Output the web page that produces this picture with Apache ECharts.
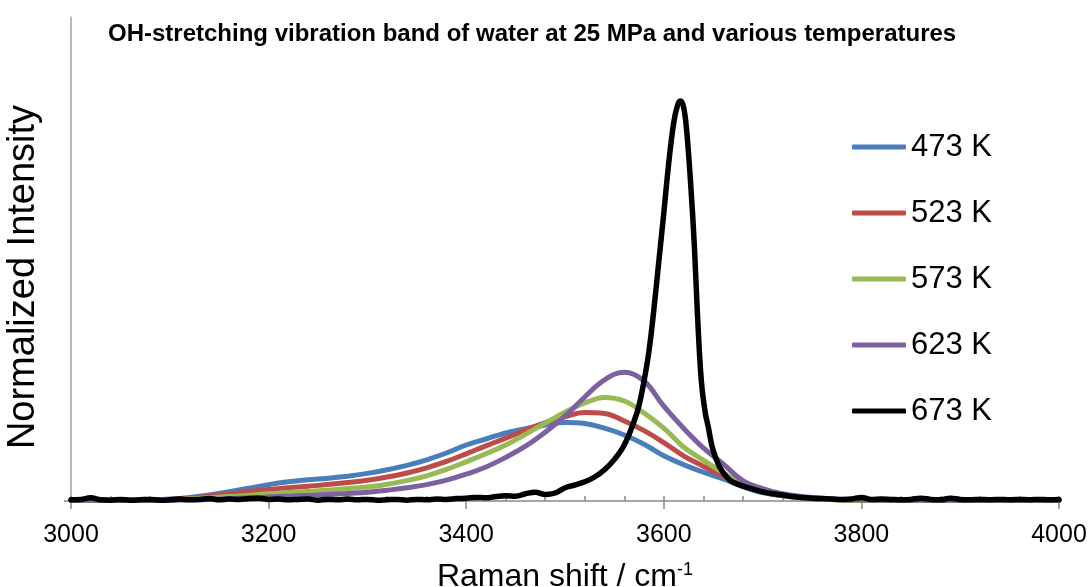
<!DOCTYPE html>
<html>
<head>
<meta charset="utf-8">
<script src="https://cdn.jsdelivr.net/npm/echarts@6/dist/echarts.min.js"></script>
<style>html,body{margin:0;padding:0;background:#fff}#chart{width:1088px;height:587px}</style>
</head>
<body>
<div id="chart"></div>
<script>
const titleText = 'OH-stretching vibration band of water at 25 MPa and various temperatures';
const seriesNames = ['473 K', '523 K', '573 K', '623 K', '673 K'];
const seriesColors = ['#4A7EBB', '#BE4B48', '#98B954', '#7D60A0', '#000000'];

// shared wavenumber grid (cm-1) for the four smooth bands
const wn = [3000,3020,3040,3060,3080,3100,3120,3140,3160,3180,3200,3220,3240,3260,3280,3300,3320,3340,3360,3380,3400,3420,3440,3460,3480,3500,3520,3540,3560,3580,3600,3620,3640,3660,3680,3700,3720,3740,3760,3780,3800,3820,3840,3860,3880,3900,3920,3940,3960,3980,4000];
const i473 = [0.002,0.002,0.002,0.002,0.003,0.005,0.009,0.015,0.023,0.032,0.041,
  0.048,0.053,0.057,0.062,0.069,0.078,0.089,0.103,0.120,0.140,
  0.155,0.170,0.181,0.190,0.196,0.194,0.182,0.165,0.142,0.113,
  0.091,0.072,0.055,0.036,0.021,0.013,0.008,0.005,0.003,0.002,
  0.002,0.002,0.002,0.002,0.002,0.002,0.002,0.002,0.002,0.002];
const i523 = [0.002,0.002,0.002,0.002,0.002,0.004,0.007,0.012,0.018,0.024,0.029,
  0.033,0.037,0.041,0.046,0.052,0.060,0.070,0.083,0.099,0.118,
  0.138,0.157,0.177,0.196,0.211,0.221,0.219,0.200,0.176,0.146,
  0.113,0.087,0.063,0.040,0.023,0.014,0.008,0.005,0.003,0.002,
  0.002,0.002,0.002,0.002,0.002,0.002,0.002,0.002,0.002,0.002];
const i573 = [0.002,0.002,0.002,0.002,0.002,0.003,0.005,0.008,0.011,0.014,0.018,
  0.021,0.024,0.027,0.031,0.035,0.042,0.051,0.063,0.079,0.098,
  0.118,0.140,0.167,0.195,0.222,0.245,0.259,0.250,0.220,0.182,
  0.135,0.102,0.071,0.043,0.025,0.015,0.009,0.005,0.003,0.002,
  0.002,0.002,0.002,0.002,0.002,0.002,0.002,0.002,0.002,0.002];
const i623 = [0.002,0.002,0.002,0.002,0.002,0.002,0.003,0.004,0.006,0.008,0.010,
  0.012,0.014,0.016,0.019,0.022,0.027,0.033,0.041,0.052,0.067,
  0.085,0.109,0.137,0.172,0.212,0.260,0.303,0.322,0.300,0.237,
  0.182,0.133,0.093,0.051,0.031,0.018,0.011,0.007,0.004,0.003,
  0.002,0.002,0.002,0.002,0.002,0.002,0.002,0.002,0.002,0.002];

// 673 K band (own, denser grid around the sharp peak)
const wn673 = [3000,3010,3020,3030,3040,3050,3060,3070,3080,3090,
  3100,3110,3120,3130,3140,3150,3160,3170,3180,3190,
  3200,3210,3220,3230,3240,3250,3260,3270,3280,3290,
  3300,3310,3320,3330,3340,3350,3360,3370,3380,3390,
  3400,3410,3420,3430,3440,3450,3460,3470,3480,3490,
  3500,3510,3520,3530,3540,3550,3560,3570,
  3575,3580,3585,3590,3595,3600,3605,3610,3614,3617,3620,3623,3627,3631,3634,3638,3642,3645,3649,3653,3657,3662,3667,3675,3687,3700,
  3710,3720,3730,3740,3750,3760,3770,3780,3790,3800,
  3810,3820,3830,3840,3850,3860,3870,3880,3890,3900,
  3910,3920,3930,3940,3950,3960,3970,3980,3990,4000];
const i673 = [0.003,0.004,0.008,0.003,0.002,0.004,0.002,0.003,0.004,0.002,
  0.003,0.005,0.003,0.004,0.006,0.003,0.005,0.004,0.006,0.007,
  0.004,0.005,0.003,0.004,0.005,0.002,0.004,0.003,0.005,0.003,
  0.004,0.002,0.003,0.004,0.002,0.004,0.003,0.005,0.004,0.006,
  0.007,0.009,0.008,0.011,0.013,0.012,0.018,0.022,0.016,0.020,
  0.033,0.040,0.048,0.060,0.078,0.104,0.140,0.200,
  0.240,0.300,0.375,0.480,0.600,0.720,0.845,0.945,0.990,1.000,0.985,0.930,0.800,0.635,0.470,0.300,0.220,0.185,0.135,0.105,0.083,0.065,0.052,0.042,0.032,0.023,
  0.018,0.015,0.011,0.009,0.007,0.006,0.005,0.004,0.005,0.009,
  0.004,0.005,0.004,0.003,0.004,0.007,0.004,0.003,0.007,0.004,
  0.003,0.004,0.003,0.004,0.003,0.004,0.003,0.004,0.003,0.004];

const xTicks = { min: 3000, max: 4000, interval: 200 };
const yRange = { min: 0, max: 1.21 };

const FONT = 'Liberation Sans, Arial, sans-serif';
const pair = (xs, ys) => xs.map((x, k) => [x, ys[k]]);
const bandData = [pair(wn, i473), pair(wn, i523), pair(wn, i573), pair(wn, i623), pair(wn673, i673)];

const chart = echarts.init(document.getElementById('chart'), null, { renderer: 'canvas' });
chart.setOption({
  animation: false,
  backgroundColor: '#ffffff',
  title: {
    text: titleText, left: 103, top: 17,
    textStyle: { fontFamily: FONT, fontWeight: 'bold', fontSize: 24, color: '#000' }
  },
  legend: {
    orient: 'vertical', left: 852, top: 129, padding: 0,
    icon: 'roundRect',
    itemWidth: 54, itemHeight: 5, itemGap: 30,
    textStyle: { fontFamily: FONT, fontSize: 31, color: '#000', lineHeight: 36 },
    data: seriesNames
  },
  grid: { left: 71, right: 29, top: 17, bottom: 86, outerBoundsMode: 'none', containLabel: false },
  xAxis: [{
    type: 'value', min: xTicks.min, max: xTicks.max, interval: xTicks.interval,
    axisLine: { show: true, lineStyle: { color: '#898989', width: 1.5 } },
    axisTick: { show: true, inside: true, length: 5, lineStyle: { color: '#898989', width: 1.5 } },
    minorTick: { show: true, splitNumber: 5, length: 5, lineStyle: { color: '#898989', width: 1.5 } },
    splitLine: { show: false },
    axisLabel: { fontFamily: FONT, fontSize: 25, color: '#000', margin: 22, formatter: v => String(v) },
    name: '{a|Raman shift / cm}{b|-1}', nameLocation: 'middle', nameGap: 60,
    nameTextStyle: {
      rich: {
        a: { fontFamily: FONT, fontSize: 32, color: '#000' },
        b: { fontFamily: FONT, fontSize: 18, color: '#000', verticalAlign: 'top' }
      }
    }
  }, {
    type: 'value', min: xTicks.min, max: xTicks.max, interval: xTicks.interval, position: 'bottom',
    axisLine: { show: false },
    axisTick: { show: true, inside: false, length: 8, lineStyle: { color: '#898989', width: 1.5 } },
    axisLabel: { show: false }, splitLine: { show: false }
  }],
  yAxis: {
    type: 'value', min: yRange.min, max: yRange.max,
    axisLine: { show: true, lineStyle: { color: '#a0a0a0', width: 1.5 } },
    axisTick: { show: true, length: 7, customValues: [0], lineStyle: { color: '#898989', width: 1.5 } },
    axisLabel: { show: false }, splitLine: { show: false },
    name: 'Normalized Intensity', nameLocation: 'middle', nameGap: 28,
    nameTextStyle: { fontFamily: FONT, fontSize: 38, color: '#000', padding: [0, 36, 0, 0] }
  },
  series: seriesNames.map((n, k) => ({
    name: n, type: 'line', xAxisIndex: 0, data: bandData[k],
    showSymbol: false, symbol: 'none', smooth: 0.4,
    color: seriesColors[k],
    lineStyle: { color: seriesColors[k], width: k === 4 ? 5.5 : 5, cap: 'round', join: 'round' }
  }))
});
</script>
</body>
</html>
